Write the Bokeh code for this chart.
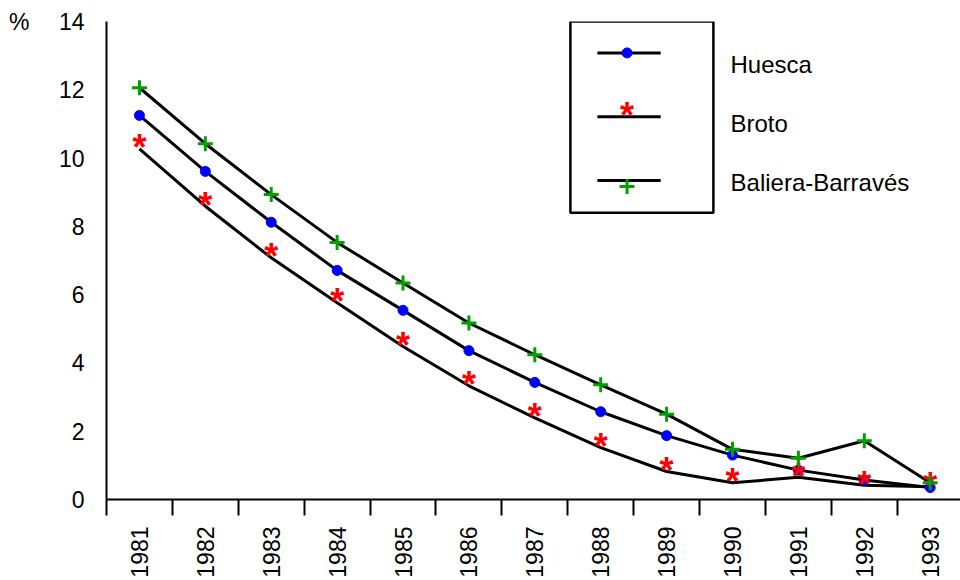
import math
from bokeh.plotting import figure
from bokeh.models import FixedTicker, BoxAnnotation, Range1d, LinearAxis
from bokeh.core.properties import value
from bokeh.embed import file_html
from bokeh.resources import INLINE

# ---- data ----
years = ["1981", "1982", "1983", "1984", "1985", "1986", "1987",
         "1988", "1989", "1990", "1991", "1992", "1993"]
huesca = [11.25, 9.61, 8.12, 6.71, 5.54, 4.36, 3.43, 2.57, 1.87, 1.30, 0.86, 0.57, 0.35]
broto = [10.27, 8.59, 7.08, 5.76, 4.48, 3.33, 2.39, 1.52, 0.82, 0.49, 0.65, 0.42, 0.37]
baliera = [12.06, 10.42, 8.93, 7.53, 6.34, 5.17, 4.24, 3.36, 2.50, 1.47, 1.21, 1.72, 0.49]
series_names = ["Huesca", "Broto", "Baliera-Barravés"]
y_ticks = [0, 2, 4, 6, 8, 10, 12, 14]
unit_label = "%"

FONT = "Liberation Sans"
FS = "23px"
BLUE = "#0000ff"
RED = "#ff0000"
GREEN = "#00a000"

xs = [i + 0.5 for i in range(len(years))]
bounds = list(range(len(years)))

p = figure(width=960, height=580, output_backend="svg", toolbar_location=None,
           x_range=Range1d(0, 12.96), y_range=Range1d(0, 14),
           min_border_left=106, min_border_right=0, min_border_top=21,
           min_border_bottom=80)
p.outline_line_color = None
p.xgrid.visible = False
p.ygrid.visible = False
p.background_fill_color = "white"
p.border_fill_color = "white"

# x axis
xa = p.xaxis[0]
xa.ticker = FixedTicker(ticks=xs, minor_ticks=bounds)
xa.major_label_overrides = {x: y for x, y in zip(xs, years)}
xa.major_label_orientation = math.pi / 2
xa.major_tick_out = 0
xa.major_tick_in = 0
xa.minor_tick_out = 16
xa.minor_tick_in = 0
xa.minor_tick_line_width = 2
xa.minor_tick_line_color = "black"
xa.axis_line_width = 2
xa.axis_line_color = "black"
xa.major_label_standoff = 11
xa.major_label_text_font = FONT
xa.major_label_text_font_size = FS
xa.major_label_text_color = "black"

# y axis
ya = p.yaxis[0]
ya.ticker = FixedTicker(ticks=y_ticks)
ya.major_tick_out = 0
ya.major_tick_in = 0
ya.minor_tick_out = 0
ya.minor_tick_in = 0
ya.axis_line_width = 2
ya.axis_line_color = "black"
ya.major_label_standoff = 22
ya.major_label_text_font = FONT
ya.major_label_text_font_size = FS
ya.major_label_text_color = "black"

# "%" unit label as an outer axis aligned with the top tick
ua = LinearAxis(ticker=FixedTicker(ticks=[14]),
                major_label_overrides={14: unit_label},
                axis_line_color=None, major_tick_out=0, major_tick_in=0,
                minor_tick_out=0, minor_tick_in=0, major_label_standoff=26,
                major_label_text_font=FONT, major_label_text_font_size=FS,
                major_label_text_color="black")
p.add_layout(ua, "left")

# lines
for ser in (huesca, broto, baliera):
    p.line(xs, ser, line_color="black", line_width=3)

# markers
p.scatter(xs, huesca, marker="circle", size=10, fill_color=BLUE, line_color=BLUE)
p.text(xs, broto, text=["*"] * len(xs), text_color=RED, text_font=value(FONT),
       text_font_size="36px", text_font_style="bold", text_align="center",
       text_baseline="alphabetic", y_offset=-1)
p.scatter(xs, baliera, marker="cross", size=15, line_color=GREEN, line_width=3)

# manual legend
p.add_layout(BoxAnnotation(left=7.04, right=9.21, top=14.0, bottom=8.40,
                           fill_color="white", fill_alpha=0.0,
                           line_color="black", line_alpha=1.0, line_width=2.5))
leg_y = [13.08, 11.21, 9.34]
leg_text_y = [12.74, 11.01, 9.28]
p.segment(x0=[7.45] * 3, x1=[8.41] * 3, y0=leg_y, y1=leg_y,
          line_color="black", line_width=3)
p.scatter([7.90], [leg_y[0]], marker="circle", size=10, fill_color=BLUE, line_color=BLUE)
p.text([7.90], [leg_y[1]], text=["*"], text_color=RED, text_font=value(FONT),
       text_font_size="36px", text_font_style="bold", text_align="center",
       text_baseline="alphabetic", y_offset=-1)
p.scatter([7.90], [leg_y[2] - 0.17], marker="cross", size=15, line_color=GREEN, line_width=3)
p.text([9.47] * 3, leg_text_y, text=series_names, text_color="black",
       text_font=value(FONT), text_font_size="24px", text_align="left",
       text_baseline="middle")

open("out.html", "w").write(file_html(p, INLINE))
